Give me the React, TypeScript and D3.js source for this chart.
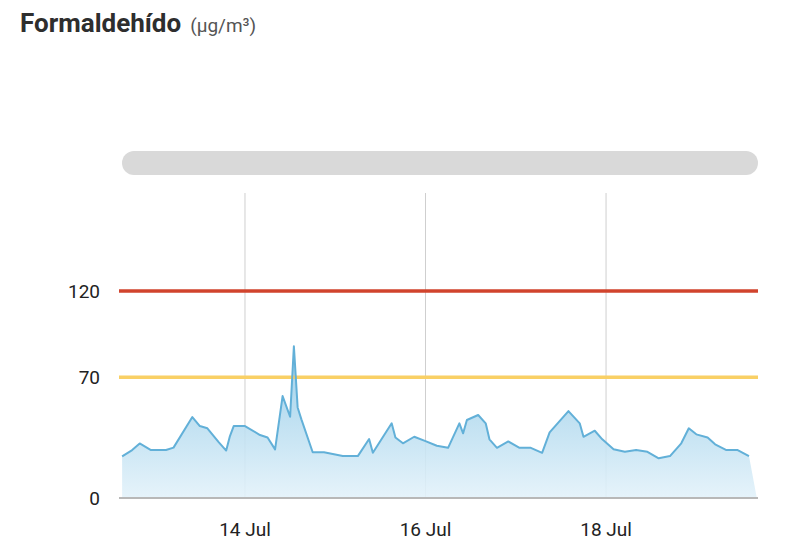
import React from "react";
import * as d3 from "d3";

// ---- data ----
const times: string[] = [
  "2024-07-12T15:20", "2024-07-12T18:00", "2024-07-12T20:00", "2024-07-12T23:00",
  "2024-07-13T03:00", "2024-07-13T05:00", "2024-07-13T10:00", "2024-07-13T12:00",
  "2024-07-13T14:00", "2024-07-13T17:00", "2024-07-13T19:00", "2024-07-13T20:00",
  "2024-07-13T21:00", "2024-07-14T00:00", "2024-07-14T04:00", "2024-07-14T06:00",
  "2024-07-14T08:00", "2024-07-14T10:00", "2024-07-14T12:00", "2024-07-14T13:00",
  "2024-07-14T14:00", "2024-07-14T15:00", "2024-07-14T18:00", "2024-07-14T21:00",
  "2024-07-15T02:00", "2024-07-15T06:00", "2024-07-15T09:00", "2024-07-15T10:00",
  "2024-07-15T15:00", "2024-07-15T16:00", "2024-07-15T18:00", "2024-07-15T21:00",
  "2024-07-16T00:00", "2024-07-16T03:00", "2024-07-16T06:00", "2024-07-16T09:00",
  "2024-07-16T10:00", "2024-07-16T11:00", "2024-07-16T14:00", "2024-07-16T16:00",
  "2024-07-16T17:00", "2024-07-16T19:00", "2024-07-16T22:00", "2024-07-17T01:00",
  "2024-07-17T04:00", "2024-07-17T07:00", "2024-07-17T09:00", "2024-07-17T14:00",
  "2024-07-17T17:00", "2024-07-17T18:00", "2024-07-17T21:00", "2024-07-17T23:00",
  "2024-07-18T02:00", "2024-07-18T05:00", "2024-07-18T08:00", "2024-07-18T11:00",
  "2024-07-18T14:00", "2024-07-18T17:00", "2024-07-18T20:00", "2024-07-18T22:00",
  "2024-07-19T00:00", "2024-07-19T03:00", "2024-07-19T05:00", "2024-07-19T08:00",
  "2024-07-19T11:00", "2024-07-19T14:00",
];
const values: number[] = [
  24.1, 27.8, 31.6, 27.8, 27.8, 29.2, 46.9, 41.7, 40.4, 32.4, 27.5, 35.9,
  41.7, 41.7, 36.5, 35.1, 28.2, 59.1, 47.1, 88.0, 52.5, 45.6, 26.5, 26.5,
  24.3, 24.3, 34.2, 26.2, 43.3, 35.1, 31.7, 35.5, 33.0, 30.3, 29.1, 43.3,
  37.5, 45.2, 48.1, 43.3, 34.0, 29.1, 32.8, 29.1, 29.1, 26.2, 38.0, 50.4,
  43.3, 35.5, 39.0, 34.0, 28.2, 26.8, 27.8, 26.8, 23.0, 24.3, 31.7, 40.4,
  36.9, 35.1, 31.1, 27.8, 27.8, 24.3,
];
const areaEnd = { time: "2024-07-19T16:05", value: 0 };
const domainStart = "2024-07-12T15:18";
const domainEnd = "2024-07-19T16:24";
const tickDates: string[] = ["2024-07-14T00:00", "2024-07-16T00:00", "2024-07-18T00:00"];
const yTicks: number[] = [0, 70, 120];
const thresholds = [
  { value: 120, color: "#d1432d" },
  { value: 70, color: "#f9d065" },
];
const yMax = 176.8;
const title = "Formaldehído";
const unit = "(µg/m³)";

export default function App() {
  const W = 812, H = 549;
  const left = 122, right = 758, top = 193, bottom = 498;
  const parse = d3.timeParse("%Y-%m-%dT%H:%M");
  const x = d3.scaleTime()
    .domain([parse(domainStart)!, parse(domainEnd)!])
    .range([left, right]);
  const y = d3.scaleLinear().domain([0, yMax]).range([bottom, top]);
  const pts = times.map((t, i) => ({ d: parse(t)!, v: values[i] }));
  const areaPts = [...pts, { d: parse(areaEnd.time)!, v: areaEnd.value }];
  const line = d3.line<{ d: Date; v: number }>().x(p => x(p.d)).y(p => y(p.v));
  const area = d3.area<{ d: Date; v: number }>().x(p => x(p.d)).y0(bottom).y1(p => y(p.v));
  const fmt = d3.timeFormat("%-d %b");
  const font = "Roboto, 'Noto Sans', sans-serif";

  return (
    <svg width={W} height={H} style={{ position: "absolute", left: 0, top: 0, background: "#fff" }}>
      <defs>
        <linearGradient id="ag" x1="0" y1="0" x2="0" y2="1" gradientUnits="objectBoundingBox">
          <stop offset="0" stopColor="#8ec8e6" stopOpacity={0.85} />
          <stop offset="1" stopColor="#e3f2fa" stopOpacity={0.9} />
        </linearGradient>
      </defs>
      <text x={20} y={32} fontFamily={font} fontSize={26} fontWeight={700} fill="#2e2e2e">
        {title}
        <tspan dx={9} fontSize={19} fontWeight={400} fill="#555">{unit}</tspan>
      </text>
      <rect x={left} y={151} width={right - left} height={24} rx={12} ry={12} fill="#d9d9d9" />
      {tickDates.map(t => (
        <line key={t} x1={x(parse(t)!)} x2={x(parse(t)!)} y1={top} y2={bottom} stroke="#cfcfcf" strokeWidth={1} />
      ))}
      <path d={area(areaPts)!} fill="url(#ag)" />
      {thresholds.map(th => (
        <line key={th.value} x1={left - 3} x2={right} y1={y(th.value)} y2={y(th.value)} stroke={th.color} strokeWidth={3.5} />
      ))}
      <path d={line(pts)!} fill="none" stroke="#62b0d8" strokeWidth={2} strokeLinejoin="round" />
      <line x1={left - 3} x2={right} y1={bottom} y2={bottom} stroke="#b8b8b8" strokeWidth={2} />
      {yTicks.map(v => (
        <text key={v} x={100} y={y(v)} dy="0.35em" textAnchor="end" fontFamily={font} fontSize={19} fill="#222">{v}</text>
      ))}
      {tickDates.map(t => (
        <text key={t} x={x(parse(t)!)} y={536} textAnchor="middle" fontFamily={font} fontSize={19} fill="#222">{fmt(parse(t)!)}</text>
      ))}
    </svg>
  );
}
